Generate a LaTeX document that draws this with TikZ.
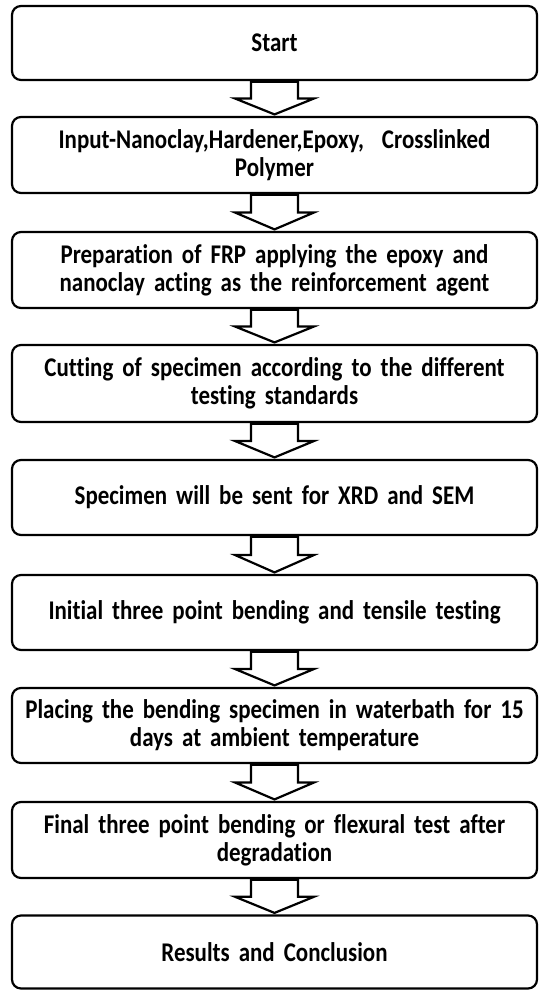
\documentclass[tikz,border=0pt]{standalone}
\usepackage{fontspec}
\setmainfont[Ligatures=NoCommon, FakeStretch=0.85, WordSpace=0.8]{Carlito}
\usetikzlibrary{calc}
\tikzset{
  flowbox/.style={draw=black, line width=2.2pt, rounded corners=9pt, fill=white,
    minimum width=525pt, align=center, text width=515pt, inner sep=0pt,
    font=\fontsize{27}{28}\selectfont\bfseries},
  blockarr/.style={draw=black, line width=2.2pt, fill=white, line join=miter}
}
\newcommand{\flowarrow}[2]{%
  \draw[blockarr] let \p1=(#1.south), \p2=(#2.north) in
    (\x1-23.5pt,\y1) -- (\x1-23.5pt,{0.5*(\y1+\y2)}) -- (\x1-39.5pt,{0.5*(\y1+\y2)})
    -- (\x1,\y2+1.5pt) -- (\x1+39.5pt,{0.5*(\y1+\y2)}) -- (\x1+23.5pt,{0.5*(\y1+\y2)})
    -- (\x1+23.5pt,\y1);
  \draw[line width=3.5pt] let \p1=(#1.south) in (\x1-23.5pt,\y1) -- (\x1+23.5pt,\y1);
}
\begin{document}
\begin{tikzpicture}[x=1pt,y=1pt]
\useasboundingbox (0,0) rectangle (542,-991);
\node[flowbox, minimum height=74pt] (n1) at (274.5,-43) {Start};
\node[flowbox, minimum height=76pt] (n2) at (274.5,-155) {Input-Nanoclay,Hardener,Epoxy,\ \ Crosslinked\\Polymer};
\node[flowbox, minimum height=76pt] (n3) at (274.5,-270) {Preparation of FRP applying the epoxy and\\nanoclay acting as the reinforcement agent};
\node[flowbox, minimum height=77pt] (n4) at (274.5,-383.5) {Cutting of specimen according to the different\\testing standards};
\node[flowbox, minimum height=75pt] (n5) at (274.5,-497.5) {Specimen will be sent for XRD and SEM};
\node[flowbox, minimum height=75pt] (n6) at (274.5,-612.5) {Initial three point bending and tensile testing};
\node[flowbox, minimum height=75pt] (n7) at (274.5,-725.5) {Placing the bending specimen in waterbath for 15\\days at ambient temperature};
\node[flowbox, minimum height=76pt] (n8) at (274.5,-840) {Final three point bending or flexural test after\\degradation};
\node[flowbox, minimum height=73pt] (n9) at (274.5,-952) {Results and Conclusion};
\flowarrow{n1}{n2}
\flowarrow{n2}{n3}
\flowarrow{n3}{n4}
\flowarrow{n4}{n5}
\flowarrow{n5}{n6}
\flowarrow{n6}{n7}
\flowarrow{n7}{n8}
\flowarrow{n8}{n9}
\end{tikzpicture}
\end{document}
